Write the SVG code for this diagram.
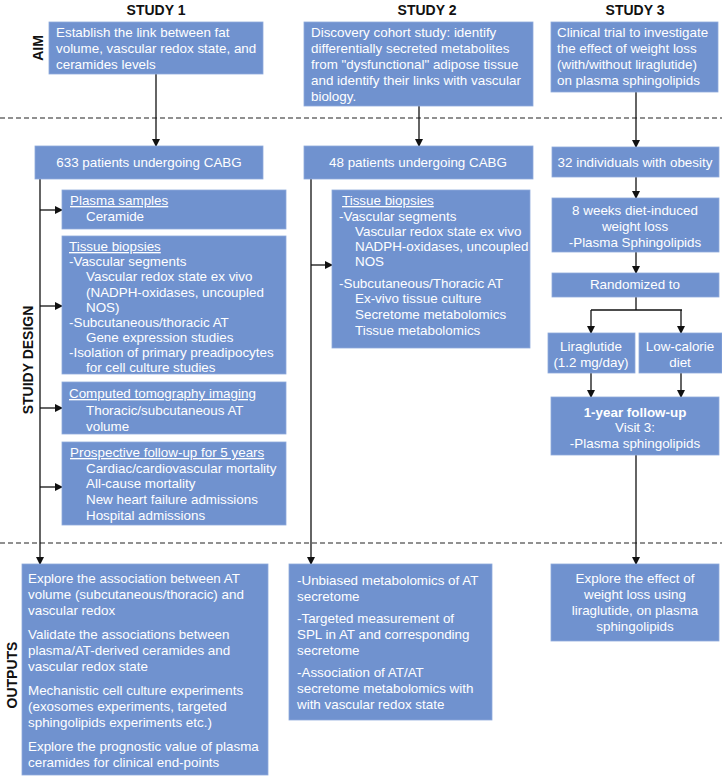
<svg xmlns="http://www.w3.org/2000/svg" width="722" height="776" viewBox="0 0 722 776">
<defs>
<marker id="ah" markerWidth="8" markerHeight="8" refX="7" refY="4" orient="auto" markerUnits="userSpaceOnUse">
<path d="M0,0 L8,4 L0,8 Z" fill="#111"/>
</marker>
<style>
.box{fill:#7092cf;stroke:#8eaadb;stroke-width:0.8}
.t{font-family:"Liberation Sans",Arial,sans-serif;font-size:13.4px;fill:#fff}
.c{text-anchor:middle}
.u{text-decoration:underline}
.b{font-weight:bold}
.h{font-family:"Liberation Sans",Arial,sans-serif;font-size:14px;font-weight:bold;fill:#111;text-anchor:middle}
.ln{stroke:#111;stroke-width:1.3;fill:none}
.arr{stroke:#111;stroke-width:1.3;fill:none;marker-end:url(#ah)}
.dash{stroke:#222;stroke-width:1.2;stroke-dasharray:5 3}
</style>
</defs>
<rect width="722" height="776" fill="#fff"/>

<g id="headers">
<text class="h" x="156" y="15">STUDY 1</text>
<text class="h" x="427" y="15">STUDY 2</text>
<text class="h" x="635" y="15">STUDY 3</text>
<text class="h" transform="translate(43,48) rotate(-90)">AIM</text>
<text class="h" transform="translate(33,360) rotate(-90)">STUIDY DESIGN</text>
<text class="h" transform="translate(17,675) rotate(-90)">OUTPUTS</text>
</g>

<g id="dividers">
<line class="dash" x1="0" y1="118" x2="722" y2="118"/>
<line class="dash" x1="0" y1="543" x2="722" y2="543"/>
</g>

<g id="connectors">
<line class="arr" x1="156" y1="74" x2="156" y2="146"/>
<line class="arr" x1="419" y1="106" x2="419" y2="146"/>
<line class="arr" x1="636" y1="92" x2="636" y2="147"/>
<line class="arr" x1="40" y1="179" x2="40" y2="564"/>
<line class="arr" x1="40" y1="210" x2="62" y2="210"/>
<line class="arr" x1="40" y1="306" x2="62" y2="306"/>
<line class="arr" x1="40" y1="408" x2="62" y2="408"/>
<line class="arr" x1="40" y1="487" x2="62" y2="487"/>
<line class="arr" x1="311" y1="179" x2="311" y2="564"/>
<line class="arr" x1="311" y1="265" x2="332" y2="265"/>
<line class="arr" x1="636" y1="177" x2="636" y2="198"/>
<line class="arr" x1="636" y1="252" x2="636" y2="273"/>
<polyline class="ln" points="636,297 636,310"/>
<polyline class="ln" points="591,310 682,310"/>
<line class="arr" x1="591" y1="310" x2="591" y2="333"/>
<line class="arr" x1="681" y1="310" x2="681" y2="333"/>
<line class="arr" x1="591" y1="373" x2="591" y2="397"/>
<line class="arr" x1="681" y1="373" x2="681" y2="397"/>
<line class="arr" x1="636" y1="455" x2="636" y2="564"/>
</g>

<g id="s1-aim">
<rect class="box" x="49" y="22" width="214" height="52"/>
<text class="t" x="56" y="37">Establish the link between fat</text>
<text class="t" x="56" y="53">volume, vascular redox state, and</text>
<text class="t" x="56" y="69">ceramides levels</text>
</g>

<g id="s2-aim">
<rect class="box" x="304" y="22" width="229" height="84"/>
<text class="t" x="311" y="37">Discovery cohort study: identify</text>
<text class="t" x="311" y="53">differentially secreted metabolites</text>
<text class="t" x="311" y="69">from "dysfunctional" adipose tissue</text>
<text class="t" x="311" y="85">and identify their links with vascular</text>
<text class="t" x="311" y="101">biology.</text>
</g>

<g id="s3-aim">
<rect class="box" x="551" y="22" width="167" height="70"/>
<text class="t" x="557" y="37">Clinical trial to investigate</text>
<text class="t" x="557" y="53">the effect of weight loss</text>
<text class="t" x="557" y="69">(with/without liraglutide)</text>
<text class="t" x="557" y="85">on plasma sphingolipids</text>
</g>

<g id="s1-patients">
<rect class="box" x="35" y="146" width="228" height="33"/>
<text class="t c" x="149" y="167">633 patients undergoing CABG</text>
</g>

<g id="s1-plasma">
<rect class="box" x="62" y="190" width="224" height="39"/>
<text class="t u" x="70" y="205">Plasma samples</text>
<text class="t" x="86" y="221">Ceramide</text>
</g>

<g id="s1-tissue">
<rect class="box" x="62" y="236" width="224" height="138"/>
<text class="t u" x="69" y="251">Tissue biopsies</text>
<text class="t" x="69" y="266">-Vascular segments</text>
<text class="t" x="86" y="281">Vascular redox state ex vivo</text>
<text class="t" x="86" y="296.5">(NADPH-oxidases, uncoupled</text>
<text class="t" x="86" y="312">NOS)</text>
<text class="t" x="69" y="327">-Subcutaneous/thoracic AT</text>
<text class="t" x="86" y="342">Gene expression studies</text>
<text class="t" x="69" y="357">-Isolation of primary preadipocytes</text>
<text class="t" x="86" y="372">for cell culture studies</text>
</g>

<g id="s1-ct">
<rect class="box" x="62" y="382" width="224" height="52"/>
<text class="t u" x="69" y="398">Computed tomography imaging</text>
<text class="t" x="86" y="415">Thoracic/subcutaneous AT</text>
<text class="t" x="86" y="431">volume</text>
</g>

<g id="s1-followup">
<rect class="box" x="62" y="442" width="224" height="83"/>
<text class="t u" x="70" y="457">Prospective follow-up for 5 years</text>
<text class="t" x="86" y="472.5">Cardiac/cardiovascular mortality</text>
<text class="t" x="86" y="488">All-cause mortality</text>
<text class="t" x="86" y="504">New heart failure admissions</text>
<text class="t" x="86" y="520">Hospital admissions</text>
</g>

<g id="s2-patients">
<rect class="box" x="304" y="146" width="229" height="33"/>
<text class="t c" x="418" y="167">48 patients undergoing CABG</text>
</g>

<g id="s2-tissue">
<rect class="box" x="332" y="190" width="198" height="158"/>
<text class="t u" x="342" y="205">Tissue biopsies</text>
<text class="t" x="339" y="221">-Vascular segments</text>
<text class="t" x="355" y="236">Vascular redox state ex vivo</text>
<text class="t" x="355" y="251">NADPH-oxidases, uncoupled</text>
<text class="t" x="355" y="266">NOS</text>
<text class="t" x="339" y="288">-Subcutaneous/Thoracic AT</text>
<text class="t" x="355" y="303">Ex-vivo tissue culture</text>
<text class="t" x="355" y="319">Secretome metabolomics</text>
<text class="t" x="355" y="335">Tissue metabolomics</text>
</g>

<g id="s3-individuals">
<rect class="box" x="552" y="147" width="167" height="30"/>
<text class="t c" x="635" y="167">32 individuals with obesity</text>
</g>

<g id="s3-weightloss">
<rect class="box" x="552" y="198" width="167" height="54"/>
<text class="t c" x="635" y="215">8 weeks diet-induced</text>
<text class="t c" x="635" y="231">weight loss</text>
<text class="t c" x="635" y="247">-Plasma Sphingolipids</text>
</g>

<g id="s3-randomized">
<rect class="box" x="552" y="273" width="167" height="24"/>
<text class="t c" x="635" y="289">Randomized to</text>
</g>

<g id="s3-liraglutide">
<rect class="box" x="548" y="333" width="87" height="40"/>
<text class="t c" x="591" y="351">Liraglutide</text>
<text class="t c" x="591" y="367">(1.2 mg/day)</text>
</g>

<g id="s3-lowcal">
<rect class="box" x="639" y="333" width="83" height="40"/>
<text class="t c" x="680" y="351">Low-calorie</text>
<text class="t c" x="680" y="367">diet</text>
</g>

<g id="s3-followup">
<rect class="box" x="551" y="397" width="168" height="58"/>
<text class="t c b" x="635" y="417">1-year follow-up</text>
<text class="t c" x="635" y="432">Visit 3:</text>
<text class="t c" x="635" y="448">-Plasma sphingolipids</text>
</g>

<g id="s1-outputs">
<rect class="box" x="22" y="564" width="246" height="211"/>
<text class="t" x="28" y="583">Explore the association between AT</text>
<text class="t" x="28" y="599">volume (subcutaneous/thoracic) and</text>
<text class="t" x="28" y="615">vascular redox</text>
<text class="t" x="28" y="639">Validate the associations between</text>
<text class="t" x="28" y="655">plasma/AT-derived ceramides and</text>
<text class="t" x="28" y="671">vascular redox state</text>
<text class="t" x="28" y="695">Mechanistic cell culture experiments</text>
<text class="t" x="28" y="711">(exosomes experiments, targeted</text>
<text class="t" x="28" y="727">sphingolipids experiments etc.)</text>
<text class="t" x="28" y="751">Explore the prognostic value of plasma</text>
<text class="t" x="28" y="767">ceramides for clinical end-points</text>
</g>

<g id="s2-outputs">
<rect class="box" x="289" y="564" width="203" height="156"/>
<text class="t" x="297" y="585">-Unbiased metabolomics of AT</text>
<text class="t" x="297" y="601">secretome</text>
<text class="t" x="297" y="623">-Targeted measurement of</text>
<text class="t" x="297" y="639">SPL in AT and corresponding</text>
<text class="t" x="297" y="655">secretome</text>
<text class="t" x="297" y="677">-Association of AT/AT</text>
<text class="t" x="297" y="693">secretome metabolomics with</text>
<text class="t" x="297" y="709">with vascular redox state</text>
</g>

<g id="s3-outputs">
<rect class="box" x="551" y="564" width="168" height="77"/>
<text class="t c" x="635" y="583">Explore the effect of</text>
<text class="t c" x="635" y="599">weight loss using</text>
<text class="t c" x="635" y="615">liraglutide, on plasma</text>
<text class="t c" x="635" y="631">sphingolipids</text>
</g>
</svg>
